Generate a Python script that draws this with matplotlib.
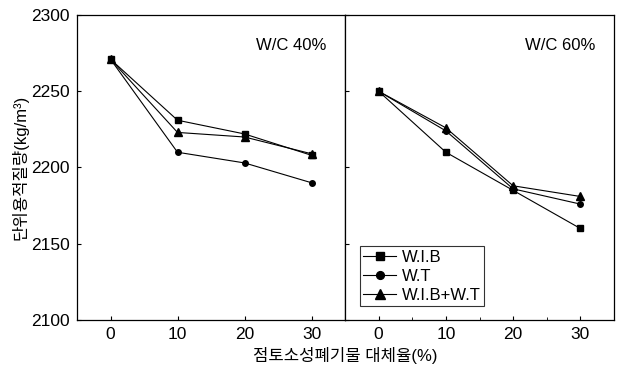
import matplotlib
matplotlib.use("Agg")
import matplotlib.pyplot as plt
from matplotlib.ticker import MultipleLocator

plt.rcParams['font.family'] = ['Liberation Sans', 'Noto Sans CJK KR', 'DejaVu Sans']

x = [0, 10, 20, 30]
series = ["W.I.B", "W.T", "W.I.B+W.T"]
markers = ["s", "o", "^"]

wc40_wib = [2271, 2231, 2222, 2208]
wc40_wt = [2271, 2210, 2203, 2190]
wc40_wibwt = [2271, 2223, 2220, 2209]

wc60_wib = [2250, 2210, 2185, 2160]
wc60_wt = [2250, 2224, 2186, 2176]
wc60_wibwt = [2250, 2226, 2188, 2181]

panels = [("W/C 40%", [wc40_wib, wc40_wt, wc40_wibwt]),
          ("W/C 60%", [wc60_wib, wc60_wt, wc60_wibwt])]

fig = plt.figure(figsize=(6.19, 3.73), dpi=100)
L, R, B, T = 77/619, 614/619, 1-320/373, 1-15/373
mid = 345/619
ax1 = fig.add_axes([L, B, mid-L, T-B])
ax2 = fig.add_axes([mid, B, R-mid, T-B], sharey=ax1)

sizes = [4, 4, 5.5]
for ax, (title, data) in zip([ax1, ax2], panels):
    for vals, m, name, s in zip(data, markers, series, sizes):
        ax.plot(x, vals, marker=m, color='black', lw=0.8, ms=s, label=name)
    ax.set_xlim(-5, 35)
    ax.set_ylim(2100, 2300)
    ax.xaxis.set_major_locator(MultipleLocator(10))
    ax.yaxis.set_major_locator(MultipleLocator(50))
    ax.tick_params(direction='in', length=3, width=0.8, labelsize=12.5, pad=5)
    for sp in ax.spines.values():
        sp.set_linewidth(0.9)
    ax.text(0.93, 0.9, title, transform=ax.transAxes, ha='right', va='center', fontsize=12)

ax2.xaxis.set_minor_locator(MultipleLocator(5))
ax2.tick_params(which='minor', direction='in', length=2)
ax2.tick_params(axis='y', labelleft=False)

ax1.set_ylabel("단위용적질량(kg/m³)", fontsize=12, labelpad=2)
fig.text(mid, 0.025, "점토소성폐기물 대체율(%)", ha='center', va='bottom', fontsize=12)

leg = ax2.legend(loc='lower left', bbox_to_anchor=(0.055, 0.045), fontsize=12, frameon=True,
                 fancybox=False, edgecolor='black', handlelength=2.0, handletextpad=0.3,
                 borderpad=0.2, labelspacing=0.25, borderaxespad=0, markerscale=1.4)
leg.get_frame().set_linewidth(0.8)

fig.savefig("out.png", dpi=100)
